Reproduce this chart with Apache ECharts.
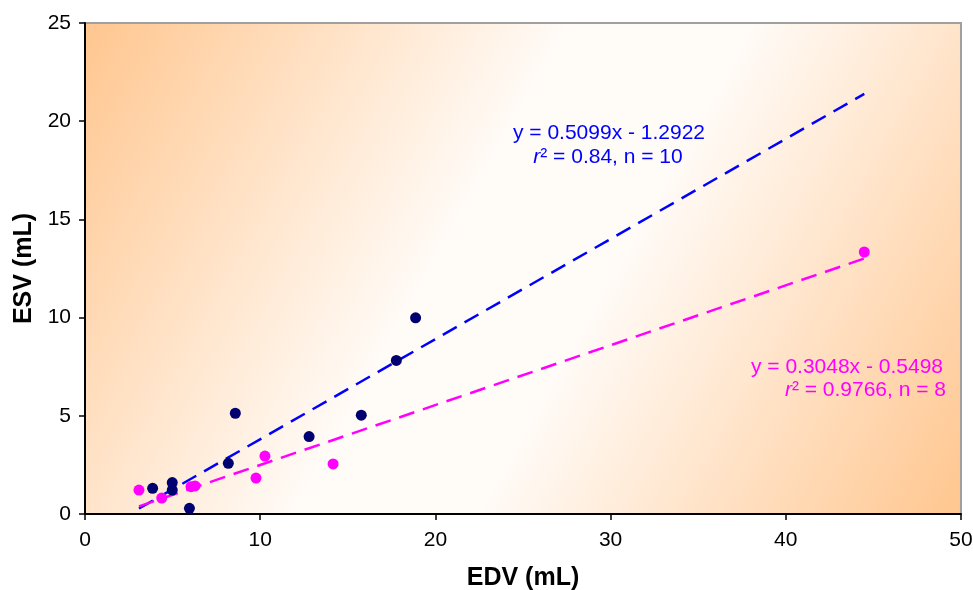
<!DOCTYPE html>
<html>
<head>
<meta charset="utf-8">
<script src="https://cdn.jsdelivr.net/npm/echarts@6/dist/echarts.min.js"></script>
<style>
  html, body { margin: 0; padding: 0; background: #fff; }
  #chart { width: 973px; height: 590px; }
</style>
</head>
<body>
<div id="chart"></div>
<script>
// group 1 (navy points, blue trend)
const edvA = [3.86, 4.98, 4.98, 5.96, 8.18, 8.58, 12.79, 15.77, 17.77, 18.87]
const esvA = [1.31, 1.60, 1.22, 0.29, 2.58, 5.13, 3.94, 5.03, 7.82, 9.99]
// group 2 (magenta points, magenta trend)
const edvB = [3.08, 4.38, 6.05, 6.28, 9.76, 10.27, 14.16, 44.48]
const esvB = [1.22, 0.81, 1.39, 1.43, 1.83, 2.95, 2.55, 13.34]

// trendline coefficients as printed on the chart
const fitA = { slope: 0.5099, intercept: -1.2922 }
const fitB = { slope: 0.3048, intercept: -0.5498 }
const fitRange = [3.08, 44.48]

const xTicks = [0, 10, 20, 30, 40, 50]
const yTicks = [0, 5, 10, 15, 20, 25]

function fitLine(fit) {
  return fitRange.map(x => [x, fit.slope * x + fit.intercept])
}

const chart = echarts.init(document.getElementById('chart'))

const tickFont = { fontFamily: 'Liberation Sans, Arial', fontSize: 21, color: '#000' }
const nameFont = { fontFamily: 'Liberation Sans, Arial', fontSize: 25, fontWeight: 'bold', color: '#000' }

function note(text, x, y, color, align) {
  return {
    type: 'text', x: x, y: y,
    style: {
      text: text, fill: color, align: align, verticalAlign: 'middle',
      font: '21px Liberation Sans',
      rich: { i: { fontStyle: 'italic', fontSize: 21, fill: color, fontFamily: 'Liberation Sans' } }
    }
  }
}

chart.setOption({
  animation: false,
  grid: {
    left: 85,
    right: 12,
    top: 23,
    bottom: 76,
    outerBoundsMode: 'none',
    containLabel: false,
    show: true,
    borderColor: '#a0a0a0',
    borderWidth: 2,
    backgroundColor: new echarts.graphic.LinearGradient(0, 0, 1, 1, [
      { offset: 0, color: '#ffc68f' },
      { offset: 0.42, color: '#fffbf7' },
      { offset: 0.58, color: '#fffbf7' },
      { offset: 1, color: '#ffc68f' }
    ])
  },
  xAxis: {
    type: 'value',
    min: xTicks[0],
    max: xTicks[xTicks.length - 1],
    interval: 10,
    name: 'EDV (mL)',
    nameLocation: 'middle',
    nameGap: 52,
    nameTextStyle: nameFont,
    axisLine: { show: true, onZero: false, lineStyle: { color: '#000', width: 2 } },
    axisTick: { show: true, length: 6, lineStyle: { color: '#000', width: 1.5 } },
    axisLabel: Object.assign({ margin: 16 }, tickFont),
    splitLine: { show: false }
  },
  yAxis: {
    type: 'value',
    min: yTicks[0],
    max: yTicks[yTicks.length - 1],
    interval: 5,
    name: 'ESV (mL)',
    nameLocation: 'middle',
    nameGap: 47,
    nameTextStyle: nameFont,
    axisLine: { show: true, onZero: false, lineStyle: { color: '#000', width: 2 } },
    axisTick: { show: true, length: 6, lineStyle: { color: '#000', width: 1.5 } },
    axisLabel: Object.assign({ margin: 14 }, tickFont),
    splitLine: { show: false }
  },
  series: [
    {
      type: 'line',
      data: fitLine(fitA),
      symbol: 'none',
      lineStyle: { color: '#0000ff', width: 2.5, type: [16, 9] },
      z: 2
    },
    {
      type: 'line',
      data: fitLine(fitB),
      symbol: 'none',
      lineStyle: { color: '#ff00ff', width: 2.5, type: [16, 9] },
      z: 2
    },
    {
      type: 'scatter',
      data: edvA.map((x, i) => [x, esvA[i]]),
      symbolSize: 11,
      itemStyle: { color: '#000070', opacity: 1 },
      z: 3
    },
    {
      type: 'scatter',
      data: edvB.map((x, i) => [x, esvB[i]]),
      symbolSize: 11,
      itemStyle: { color: '#ff00ff', opacity: 1 },
      z: 3
    }
  ],
  graphic: [
    note('y = 0.5099x - 1.2922', 609, 133, '#0000ff', 'center'),
    note('{i|r}² = 0.84, n = 10', 608, 157, '#0000ff', 'center'),
    note('y = 0.3048x - 0.5498', 943, 367, '#ff00ff', 'right'),
    note('{i|r}² = 0.9766, n = 8', 946, 390, '#ff00ff', 'right')
  ]
})
</script>
</body>
</html>
